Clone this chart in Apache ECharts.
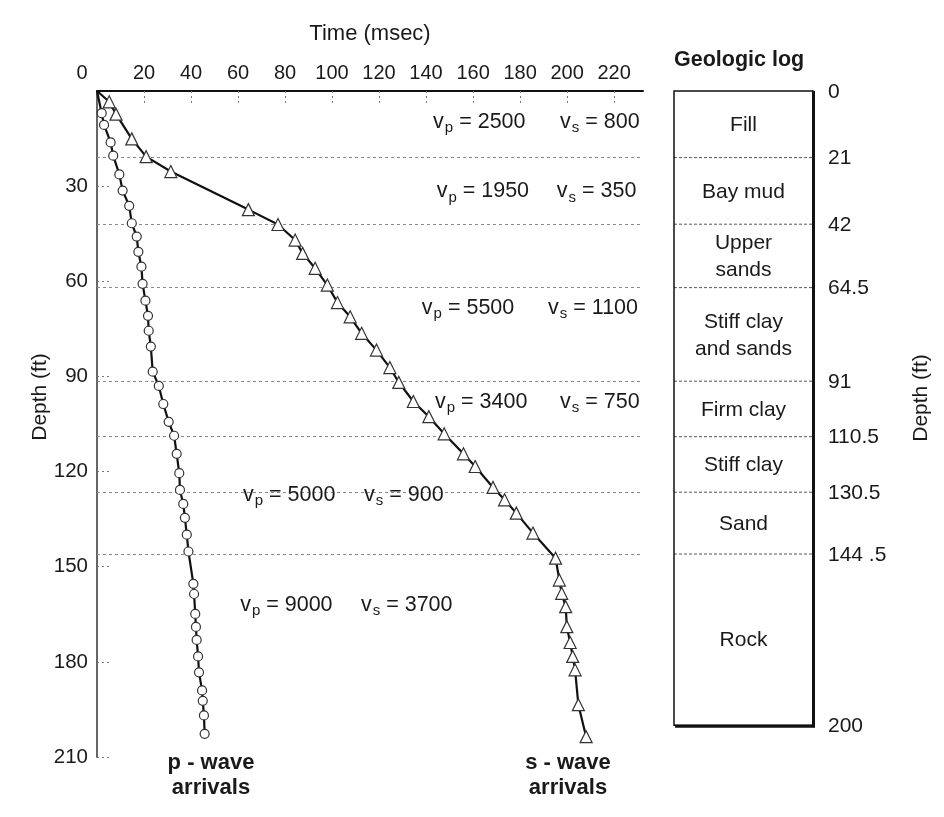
<!DOCTYPE html>
<html><head><meta charset="utf-8">
<script src="https://cdn.jsdelivr.net/npm/echarts@6/dist/echarts.min.js"></script>
<style>html,body{margin:0;padding:0;background:#fff}#c{width:944px;height:817px}</style>
</head><body><div id="c"></div>
<script>
// ---- data ----
const timeTicks = [0,20,40,60,80,100,120,140,160,180,200,220];
const depthTicks = [30,60,90,120,150,180,210];

const pTime  = [0,2.0,3.0,5.8,6.9,9.5,10.9,13.7,14.8,16.9,17.6,18.9,19.4,20.6,21.7,22.0,22.9,23.7,26.3,28.2,30.5,32.8,33.9,35.0,35.3,36.7,37.4,38.2,38.9,41.0,41.3,41.8,42.1,42.4,43.0,43.4,44.7,45.0,45.5,45.8];
const pDepth = [0,7.0,10.7,16.2,20.4,26.3,31.4,36.2,41.7,45.9,50.7,55.4,60.8,66.1,70.9,75.6,80.6,88.5,93.0,98.7,104.3,108.7,114.4,120.5,125.8,130.2,134.6,139.9,145.2,155.4,158.6,164.9,169.0,173.1,178.3,183.3,189.0,192.3,196.9,202.7];

const sTime  = [0,5.2,8.1,14.8,20.9,31.4,64.4,77.0,84.3,87.5,92.8,98.0,102.3,107.7,112.6,118.9,124.6,128.4,134.6,141.2,147.7,155.9,160.9,168.5,173.4,178.4,185.5,195.1,196.7,197.7,199.4,199.9,201.3,202.4,203.4,204.8,208.1];
const sDepth = [0,3.4,7.3,15.1,20.7,25.4,37.4,42.1,47.0,51.2,55.9,61.2,66.7,71.2,76.4,81.7,87.2,91.9,97.9,102.7,108.1,114.4,118.4,125.0,128.9,133.1,139.4,147.3,154.2,158.4,162.6,168.9,173.9,178.3,182.5,193.5,203.6];

const layerNames = ['Fill','Bay mud','Upper\nsands','Stiff clay\nand sands','Firm clay','Stiff clay','Sand','Rock'];
const layerBounds = [0,21,42,62,91.5,109,126.5,146,200];          // as drawn in the picture
const boundaryLabels = ['0','21','42','64.5','91','110.5','130.5','144 .5','200'];

const vpValues = [2500,1950,5500,3400,5000,9000];
const vsValues = [800,350,1100,750,900,3700];

// ---- layout (annotation anchors, in time/depth units) ----
const vpAnchor = [[143,9.7],[144.5,31.7],[138.2,68.4],[143.8,98],[62.1,127.3],[60.9,162]];
const vsAnchor = [[197,9.7],[195.6,31.7],[191.9,68.4],[197,98],[113.6,127.3],[112.3,162]];

const FONT = '"Liberation Sans", Arial, Helvetica, sans-serif';
const TXT = '#1a1a1a';

const chart = echarts.init(document.getElementById('c'), null, {renderer: 'canvas'});

const pData = pTime.map((t, i) => i === 0 ? {value: [t, pDepth[i]], symbol: 'none'} : [t, pDepth[i]]);
const sData = sTime.map((t, i) => i === 0 ? {value: [t, sDepth[i]], symbol: 'none'} : [t, sDepth[i]]);

const richV = {
  v: {fontSize: 21.5, fontFamily: FONT, color: TXT, opacity: 1},
  s: {fontSize: 15, fontFamily: FONT, color: TXT, opacity: 1, padding: [12, 0, 0, 1]},
  t: {fontSize: 21.5, fontFamily: FONT, color: TXT, opacity: 1}
};

const layerData = layerNames.map((n, i) => [layerBounds[i], layerBounds[i + 1]]);

const centerText = (text, x, y, font, extra) => ({
  type: 'text', x, y, ...(extra || {}),
  style: Object.assign({text, font, fill: TXT, align: 'center', verticalAlign: 'middle',
    textAlign: 'center', textVerticalAlign: 'middle'}, (extra && extra.st) || {})
});

chart.setOption({
  animation: false,
  backgroundColor: '#fff',
  grid: [
    {left: 97, top: 91, width: 546, height: 666},
    {left: 674, top: 91, width: 139, height: 666}
  ],
  title: {
    text: 'Geologic log', left: 674, top: 49, padding: 0,
    textStyle: {fontFamily: FONT, fontSize: 21.5, fontWeight: 'bold', color: TXT}
  },
  xAxis: [
    {
      gridIndex: 0, type: 'value', position: 'top', min: 0, max: 232.3,
      name: 'Time (msec)', nameLocation: 'middle', nameGap: 46,
      nameTextStyle: {fontFamily: FONT, fontSize: 22, color: TXT},
      axisLine: {show: true, lineStyle: {color: '#111', width: 2}},
      axisTick: {show: true, inside: true, length: 14, customValues: timeTicks,
        lineStyle: {color: '#777', type: [2, 3], width: 1}},
      axisLabel: {show: true, customValues: timeTicks, margin: 8,
        fontFamily: FONT, fontSize: 20, color: TXT,
        formatter: v => v === 0 ? '{z|0}' : String(v),
        rich: {z: {fontFamily: FONT, fontSize: 20, color: TXT, padding: [0, 30, 0, 0]}}},
      splitLine: {show: false}
    },
    {gridIndex: 1, type: 'value', min: 0, max: 1, show: false}
  ],
  yAxis: [
    {
      gridIndex: 0, type: 'value', inverse: true, min: 0, max: 210,
      axisLine: {show: true, lineStyle: {color: '#666', width: 2}},
      axisTick: {show: true, inside: true, length: 12, customValues: depthTicks,
        lineStyle: {color: '#777', type: [2, 3], width: 1}},
      axisLabel: {show: true, customValues: depthTicks, margin: 9,
        fontFamily: FONT, fontSize: 20.5, color: TXT},
      splitLine: {show: false}
    },
    {gridIndex: 1, type: 'value', inverse: true, min: 0, max: 210, show: false}
  ],
  graphic: [
    centerText('Depth (ft)', 40, 397, '21px ' + FONT, {rotation: Math.PI / 2}),
    centerText('Depth (ft)', 921, 398, '21px ' + FONT, {rotation: Math.PI / 2}),
    centerText('p - wave\narrivals', 211, 775.5, 'bold 22px ' + FONT, {st: {lineHeight: 25}}),
    centerText('s - wave\narrivals', 568, 775.5, 'bold 22px ' + FONT, {st: {lineHeight: 25}})
  ],
  series: [
    {
      name: 'p-wave', type: 'line', xAxisIndex: 0, yAxisIndex: 0, data: pData,
      symbol: 'circle', symbolSize: 9, z: 5,
      lineStyle: {color: '#111', width: 2.2},
      itemStyle: {color: '#fff', borderColor: '#333', borderWidth: 1.2},
      markLine: {
        silent: true, symbol: ['none', 'none'], label: {show: false}, z: 1,
        lineStyle: {color: '#8a8a8a', type: [3, 3], width: 1},
        data: layerBounds.slice(1, -1).map(d => ({yAxis: d}))
      }
    },
    {
      name: 's-wave', type: 'line', xAxisIndex: 0, yAxisIndex: 0, data: sData,
      symbol: 'triangle', symbolSize: 12, z: 5,
      lineStyle: {color: '#111', width: 2.2},
      itemStyle: {color: '#fff', borderColor: '#333', borderWidth: 1.2}
    },
    {
      type: 'scatter', xAxisIndex: 0, yAxisIndex: 0, symbolSize: 0, silent: true, z: 6,
      itemStyle: {opacity: 1}, data: vpAnchor,
      label: {show: true, position: 'right', distance: 0, align: 'left', verticalAlign: 'middle', opacity: 1,
        formatter: p => '{v|v}{s|p}{t| = ' + vpValues[p.dataIndex] + '}', rich: richV}
    },
    {
      type: 'scatter', xAxisIndex: 0, yAxisIndex: 0, symbolSize: 0, silent: true, z: 6,
      itemStyle: {opacity: 1}, data: vsAnchor,
      label: {show: true, position: 'right', distance: 0, align: 'left', verticalAlign: 'middle', opacity: 1,
        formatter: p => '{v|v}{s|s}{t| = ' + vsValues[p.dataIndex] + '}', rich: richV}
    },
    {
      type: 'custom', xAxisIndex: 1, yAxisIndex: 1, silent: true, data: layerData,
      renderItem: (params, api) => {
        const top = api.value(0), bot = api.value(1);
        const a = api.coord([0, top]), b = api.coord([1, bot]);
        const children = [{
          type: 'text', x: (a[0] + b[0]) / 2, y: (a[1] + b[1]) / 2 + 1,
          style: {text: layerNames[params.dataIndex], font: '21px ' + FONT, fill: TXT, lineHeight: 27,
            align: 'center', verticalAlign: 'middle', textAlign: 'center', textVerticalAlign: 'middle'}
        }];
        if (top > 0) {
          children.push({type: 'line', shape: {x1: a[0], y1: a[1], x2: b[0], y2: a[1]},
            style: {stroke: '#555', lineWidth: 1, lineDash: [3, 2]}});
        }
        return {type: 'group', children};
      }
    },
    {
      type: 'custom', xAxisIndex: 1, yAxisIndex: 1, silent: true,
      data: [[layerBounds[0], layerBounds[layerBounds.length - 1]]],
      renderItem: (params, api) => {
        const a = api.coord([0, api.value(0)]), b = api.coord([1, api.value(1)]);
        return {type: 'group', children: [
          {type: 'rect', shape: {x: a[0], y: a[1], width: b[0] - a[0], height: b[1] - a[1]},
            style: {fill: 'none', stroke: '#111', lineWidth: 1.5}},
          {type: 'line', shape: {x1: b[0] + 0.5, y1: a[1], x2: b[0] + 0.5, y2: b[1] + 2},
            style: {stroke: '#111', lineWidth: 3}},
          {type: 'line', shape: {x1: a[0] + 1, y1: b[1] + 1, x2: b[0] + 2, y2: b[1] + 1},
            style: {stroke: '#111', lineWidth: 3}}
        ]};
      }
    },
    {
      type: 'custom', xAxisIndex: 1, yAxisIndex: 1, silent: true,
      data: layerBounds.map(d => [1, d]),
      renderItem: (params, api) => {
        const p = api.coord([api.value(0), api.value(1)]);
        return {type: 'text', x: p[0] + 15, y: p[1] + 1,
          style: {text: boundaryLabels[params.dataIndex], font: '21px ' + FONT, fill: TXT,
            align: 'left', verticalAlign: 'middle', textAlign: 'left', textVerticalAlign: 'middle'}};
      }
    }
  ]
});
</script>
</body></html>
